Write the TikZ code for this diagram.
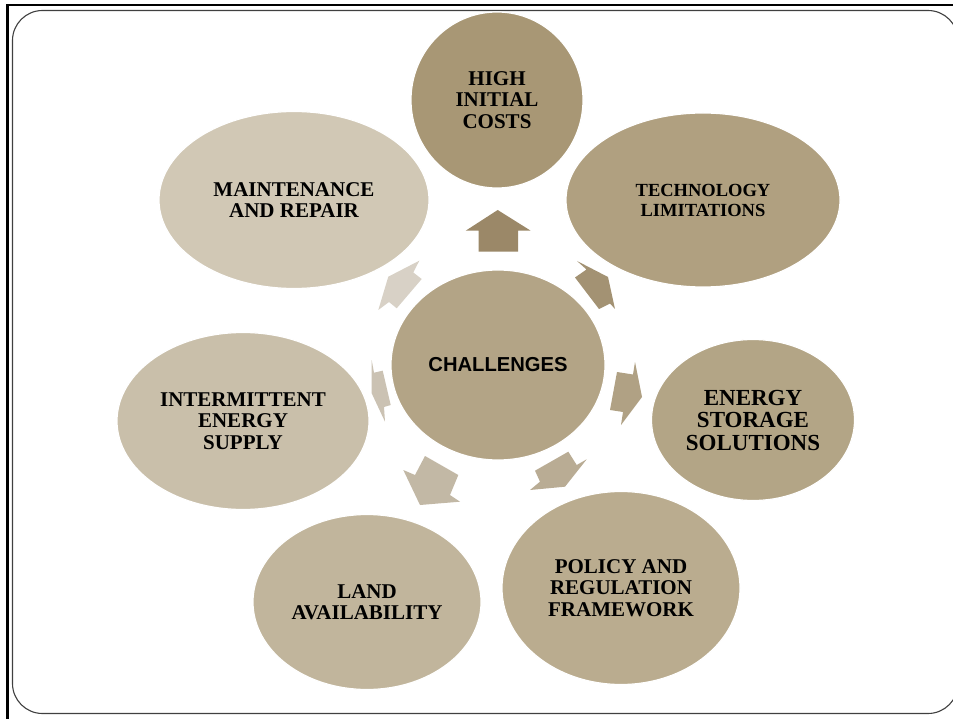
\documentclass[tikz,border=0pt]{standalone}
\usepackage{fontspec}
\setmainfont{Liberation Serif}
\newfontfamily\hdfont{Liberation Sans}
\usetikzlibrary{shapes.geometric}
\definecolor{cHigh}{HTML}{A89775}
\definecolor{cTech}{HTML}{B0A080}
\definecolor{cStor}{HTML}{B3A586}
\definecolor{cPol}{HTML}{BAAC8F}
\definecolor{cLand}{HTML}{C1B59C}
\definecolor{cInt}{HTML}{C9BFAA}
\definecolor{cMaint}{HTML}{D1C8B5}
\definecolor{cCent}{HTML}{B3A486}
\definecolor{aUp}{HTML}{9B8868}
\definecolor{aTR}{HTML}{A39273}
\definecolor{aR}{HTML}{B0A184}
\definecolor{aBR}{HTML}{B9AC94}
\definecolor{aBL}{HTML}{C2B8A5}
\definecolor{aL}{HTML}{CBC2B3}
\definecolor{aUL}{HTML}{D8D1C6}
\definecolor{frameline}{HTML}{404040}
\tikzset{
  bub/.style={ellipse, draw=white, line width=1.2pt, inner sep=0pt, align=center,
    font=\bfseries\fontsize{21}{21.5}\selectfont},
  blockarrow/.style={draw=none}
}
\begin{document}
\begin{tikzpicture}[x=1pt,y=-1pt]
\useasboundingbox (0,0) rectangle (953,719);
\clip (0,0) rectangle (953,719);
\fill[white] (0,0) rectangle (953,719);
% frame
\draw[line width=2.8pt, black] (7.5,5) rectangle (1100,900);
\draw[line width=1.1pt, frameline, rounded corners=30pt] (12.5,10.5) rectangle (958,713.5);
% bubbles
\node[bub, fill=cHigh, minimum width=172pt, minimum height=176pt] (high) at (497,100) {HIGH\\INITIAL\\COSTS};
\node[bub, fill=cTech, minimum width=274pt, minimum height=174pt, font=\bfseries\fontsize{18.5}{20}\selectfont] (tech) at (703,200) {TECHNOLOGY\\LIMITATIONS};
\node[bub, fill=cStor, minimum width=203pt, minimum height=161pt, font=\bfseries\fontsize{23}{22.5}\selectfont] (stor) at (753,420) {ENERGY\\STORAGE\\SOLUTIONS};
\node[bub, fill=cPol, minimum width=238pt, minimum height=193pt] (pol) at (621,588) {POLICY AND\\REGULATION\\FRAMEWORK};
\node[bub, fill=cLand, minimum width=228pt, minimum height=175pt] (land) at (367,602) {LAND\\AVAILABILITY};
\node[bub, fill=cInt, minimum width=252pt, minimum height=177pt] (int) at (243,421) {INTERMITTENT\\ENERGY\\SUPPLY};
\node[bub, fill=cMaint, minimum width=270pt, minimum height=177pt] (maint) at (294,200) {MAINTENANCE\\AND REPAIR};
\node[bub, fill=cCent, minimum width=214pt, minimum height=190pt, font=\hdfont\bfseries\fontsize{20.2}{22}\selectfont] (cent) at (498,365) {CHALLENGES};
% block arrows
\fill[aUp] (497.7,210) -- (530.7,230.7) -- (518,230.7) -- (518,251.7) -- (478.7,251.7) -- (478.7,230.7) -- (465.7,230.7) -- cycle;
\fill[aTR] (577,261) -- (608,277) -- (615,309) -- (610,303.5) -- (599,309) -- (575,277.5) -- (586.5,269.5) -- cycle;
\fill[aR] (642,397) -- (621,425) -- (623,412) -- (610,410) -- (617,372) -- (633,374.5) -- (635,362) -- cycle;
\fill[aBR] (586.7,459.3) -- (565,486.7) -- (530,490) -- (540,481.7) -- (535,470.7) -- (568.3,451.7) -- (576.7,465) -- cycle;
\fill[aBL] (403.3,470) -- (415,475) -- (425,456) -- (458.3,475) -- (450,495) -- (460,501.7) -- (420,505) -- cycle;
\fill[aL] (371.7,360) -- (374,372.7) -- (382.7,370.7) -- (390.7,405) -- (384,407) -- (385,421.7) -- (371.7,393.3) -- cycle;
\fill[aUL] (419.3,260.7) -- (388.3,276.7) -- (378.3,310) -- (389,302) -- (396.7,308.3) -- (421.7,279) -- (413.3,272.5) -- cycle;
\end{tikzpicture}
\end{document}
